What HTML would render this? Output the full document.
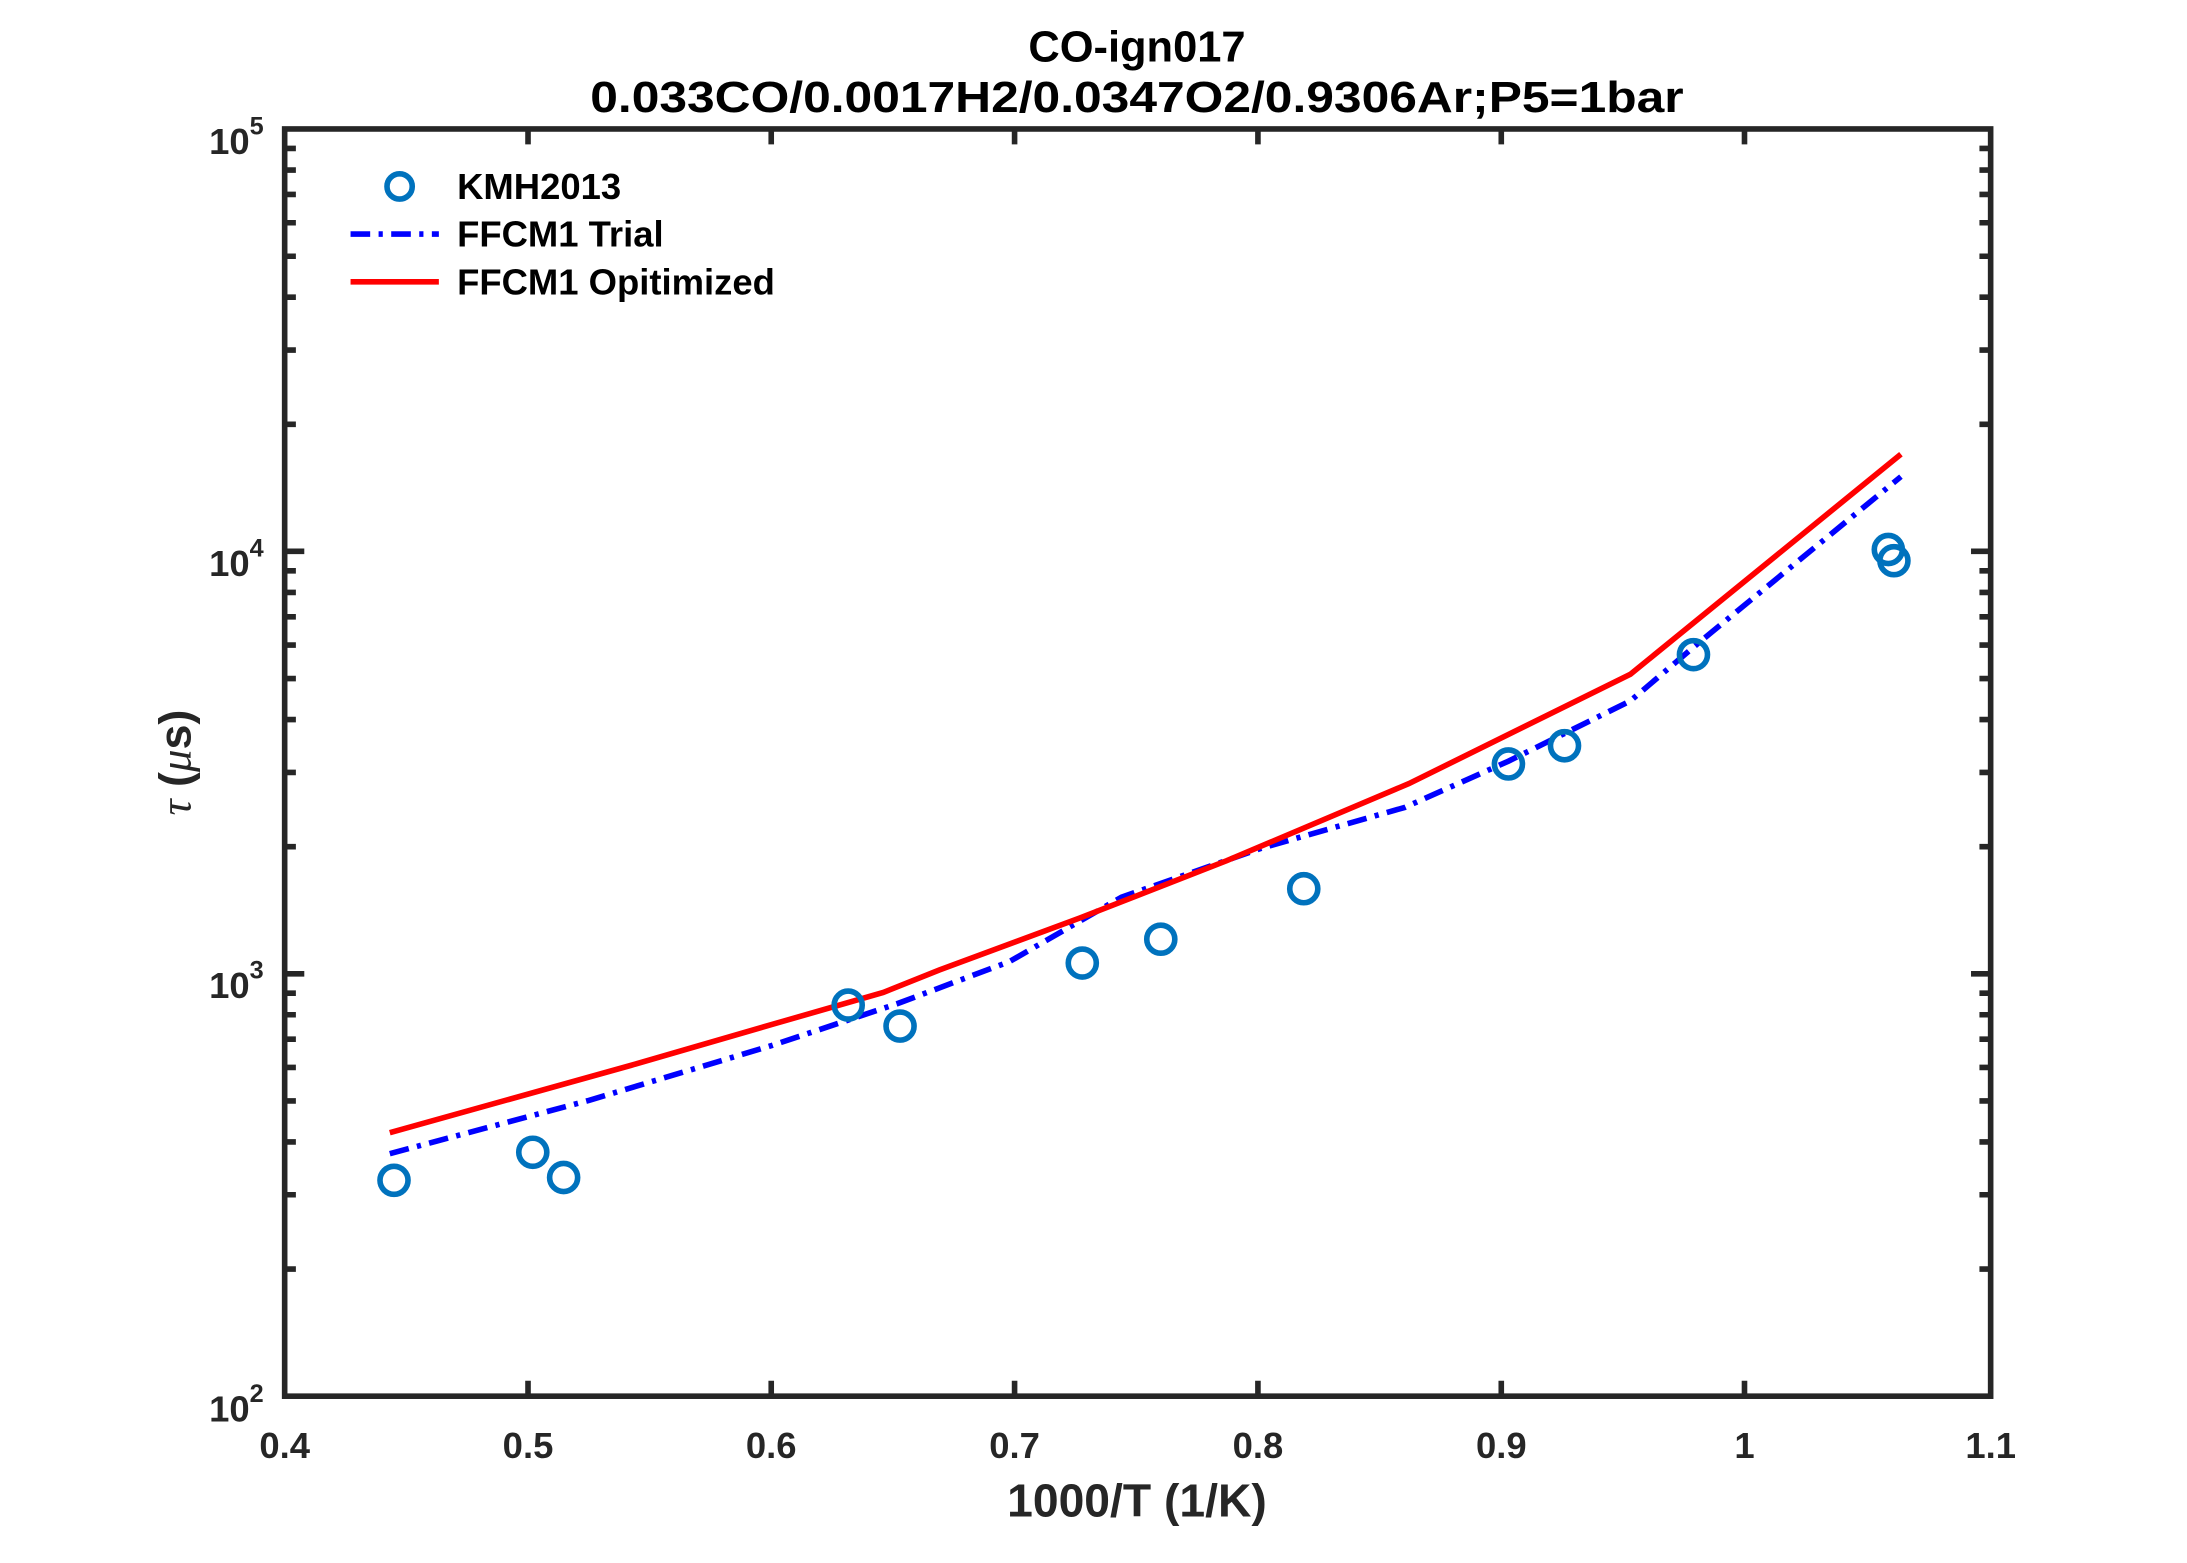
<!DOCTYPE html>
<html><head><style>body{margin:0;background:#fff}svg{display:block}</style></head><body>
<svg width="2187" height="1563" viewBox="0 0 1560 1115" xmlns="http://www.w3.org/2000/svg" font-family="Liberation Sans, sans-serif" font-weight="bold">
<rect width="1560" height="1115" fill="#fff"/>
<text x="811" y="44" font-size="31" text-anchor="middle" fill="#000">CO-ign017</text>
<text x="811" y="80" font-size="31" text-anchor="middle" fill="#000" textLength="780" lengthAdjust="spacingAndGlyphs">0.033CO/0.0017H2/0.0347O2/0.9306Ar;P5=1bar</text>
<g stroke="#262626" stroke-width="4" fill="none">
<rect x="203" y="92" width="1217" height="904"/>
<path d="M376.6,996v-11M550.1,996v-11M723.7,996v-11M897.3,996v-11M1070.9,996v-11M1244.4,996v-11M376.6,92v11M550.1,92v11M723.7,92v11M897.3,92v11M1070.9,92v11M1244.4,92v11"/>
<path d="M203,393.3h14M203,694.7h14M1420,393.3h-14M1420,694.7h-14"/>
<path id="mn" d="M203,905.3h8M203,852.3h8M203,814.6h8M203,785.4h8M203,761.5h8M203,741.3h8M203,723.9h8M203,708.5h8"/>
<use href="#mn" transform="translate(0,-301.3)"/><use href="#mn" transform="translate(0,-602.6)"/>
<g transform="translate(1623,0) scale(-1,1)"><use href="#mn"/><use href="#mn" transform="translate(0,-301.3)"/><use href="#mn" transform="translate(0,-602.6)"/></g>
</g>
<g font-size="26" fill="#262626" text-anchor="middle">
<text x="203" y="1040">0.4</text><text x="376.6" y="1040">0.5</text><text x="550.1" y="1040">0.6</text><text x="723.7" y="1040">0.7</text><text x="897.3" y="1040">0.8</text><text x="1070.9" y="1040">0.9</text><text x="1244.4" y="1040">1</text><text x="1420" y="1040">1.1</text>
</g>
<g font-size="26" fill="#262626" text-anchor="end">
<text x="188" y="1014">10<tspan dy="-14" font-size="18">2</tspan></text>
<text x="188" y="712">10<tspan dy="-14" font-size="18">3</tspan></text>
<text x="188" y="411">10<tspan dy="-14" font-size="18">4</tspan></text>
<text x="188" y="110">10<tspan dy="-14" font-size="18">5</tspan></text>
</g>
<text x="811" y="1082" font-size="33" text-anchor="middle" fill="#262626">1000/T (1/K)</text>
<text transform="translate(136,544) rotate(-90)" font-size="32" text-anchor="middle" fill="#262626"><tspan font-style="italic" font-family="Liberation Serif, serif" font-weight="normal">τ</tspan> (<tspan font-style="italic" font-family="Liberation Serif, serif" font-weight="normal">μ</tspan>s)</text>
<polyline fill="none" stroke="#0000ff" stroke-width="4" stroke-dasharray="14,6,3,6" points="278,823 420,785 550,746 640,716 720,686 800,640 900,605 1002,576 1076,543 1163,500 1210,460 1356,340"/>
<polyline fill="none" stroke="#ff0000" stroke-width="4" points="278,808 450,760 550,731 630,708 670,692 770,655 875,614 1005,559 1163,481 1356,324"/>
<g fill="none" stroke="#0072bd" stroke-width="4">
<circle cx="281" cy="842" r="10"/><circle cx="380" cy="822" r="10"/><circle cx="402" cy="840" r="10"/><circle cx="605" cy="717" r="10"/><circle cx="642" cy="732" r="10"/><circle cx="772" cy="687" r="10"/><circle cx="828" cy="670" r="10"/><circle cx="930" cy="634" r="10"/><circle cx="1076" cy="545" r="10"/><circle cx="1116" cy="532" r="10"/><circle cx="1208" cy="467" r="10"/><circle cx="1347" cy="392" r="10"/><circle cx="1351" cy="400" r="10"/>
<circle cx="285" cy="133" r="9"/>
</g>
<path d="M250,167h63" stroke="#0000ff" stroke-width="4" stroke-dasharray="14,6,3,6"/>
<path d="M250,201h63" stroke="#ff0000" stroke-width="4"/>
<g font-size="26" fill="#000"><text x="326" y="142">KMH2013</text><text x="326" y="176">FFCM1 Trial</text><text x="326" y="210">FFCM1 Opitimized</text></g>
</svg>
</body></html>
